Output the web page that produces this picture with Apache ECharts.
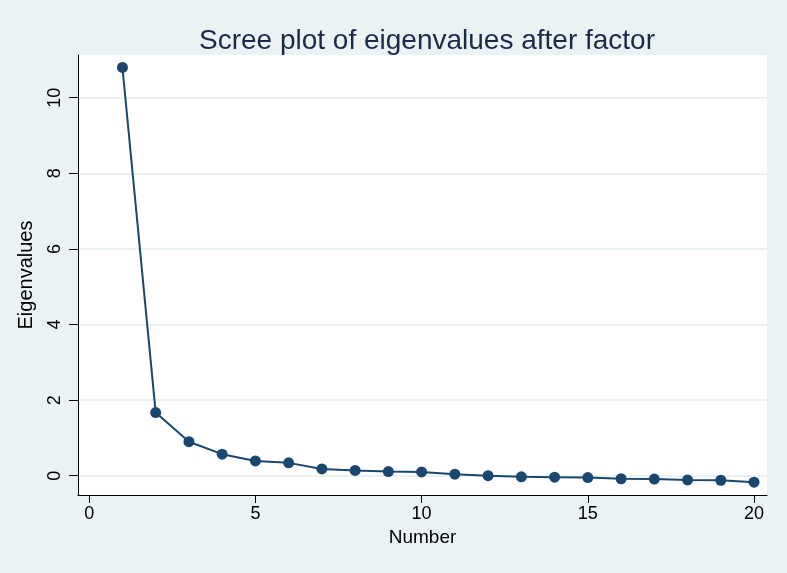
<!DOCTYPE html>
<html>
<head>
<meta charset="utf-8">
<script src="https://cdn.jsdelivr.net/npm/echarts@6/dist/echarts.min.js"></script>
<style>
html,body{margin:0;padding:0;background:#EAF2F3;}
#chart{width:787px;height:573px;}
</style>
</head>
<body>
<div id="chart"></div>
<script>
// Data
var numbers = [1,2,3,4,5,6,7,8,9,10,11,12,13,14,15,16,17,18,19,20];
var eigenvalues = [10.80,1.67,0.90,0.57,0.39,0.34,0.18,0.14,0.11,0.10,0.04,0.00,-0.03,-0.04,-0.05,-0.08,-0.09,-0.11,-0.12,-0.17];
var xTicks = [0,5,10,15,20];
var yTicks = [0,2,4,6,8,10];
var titleText = 'Scree plot of eigenvalues after factor';
var xName = 'Number';
var yName = 'Eigenvalues';

var chart = echarts.init(document.getElementById('chart'), null, {renderer:'canvas'});
var font = 'Liberation Sans, Arial, Helvetica, sans-serif';
var option = {
  backgroundColor: '#EAF2F3',
  animation: false,
  title: {
    text: titleText,
    left: 422, textAlign: 'center',
    top: 22,
    textStyle: {fontFamily: font, fontSize: 28, fontWeight: 'normal', color: '#1c2a4a'}
  },
  grid: {
    left: 78, right: 20, top: 55, bottom: 78,
    show: true, backgroundColor: '#ffffff', borderWidth: 0,
    containLabel: false
  },
  xAxis: {
    type: 'value',
    min: -0.337, max: 20.39,
    name: xName, nameLocation: 'middle', nameGap: 30,
    nameTextStyle: {fontFamily: font, fontSize: 19, color: '#000'},
    axisLine: {show: true, onZero: false, lineStyle: {color: '#000', width: 1}},
    axisTick: {show: true, inside: false, length: 8, customValues: xTicks, lineStyle: {color: '#000', width: 1}},
    axisLabel: {customValues: xTicks, margin: 10, fontFamily: font, fontSize: 18, color: '#000'},
    splitLine: {show: false}
  },
  yAxis: {
    type: 'value',
    min: -0.51, max: 11.13,
    name: yName, nameLocation: 'middle', nameGap: 42, nameRotate: 90,
    nameTextStyle: {fontFamily: font, fontSize: 20, color: '#000'},
    axisLine: {show: true, onZero: false, lineStyle: {color: '#000', width: 1}},
    axisTick: {show: true, inside: false, length: 9, customValues: yTicks, lineStyle: {color: '#000', width: 1}},
    axisLabel: {customValues: yTicks, rotate: 90, margin: 14, fontFamily: font, fontSize: 18, color: '#000'},
    splitLine: {show: true, lineStyle: {color: '#EAF2F3', width: 2}}
  },
  series: [{
    type: 'line',
    data: numbers.map(function(n, i){ return [n, eigenvalues[i]]; }),
    symbol: 'circle', symbolSize: 11,
    lineStyle: {color: '#1A476F', width: 2},
    itemStyle: {color: '#1A476F'},
    clip: false
  }]
};
chart.setOption(option);
</script>
</body>
</html>
